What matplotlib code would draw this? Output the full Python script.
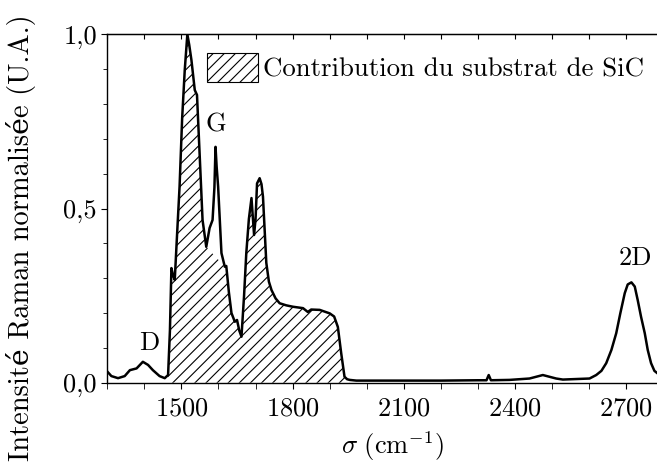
import numpy as np
import matplotlib
matplotlib.use('Agg')
import matplotlib.pyplot as plt
from matplotlib.patches import Patch

plt.rcParams['font.family'] = ['cmr10', 'DejaVu Serif']
plt.rcParams['mathtext.fontset'] = 'cm'
plt.rcParams['axes.formatter.use_mathtext'] = True
plt.rcParams['hatch.linewidth'] = 0.8

# spectre Raman normalise
sigma = [1300, 1311, 1329, 1347, 1361, 1379, 1396, 1410, 1423, 1441, 1455, 1464,
         1469, 1473, 1477, 1482, 1488, 1495, 1502, 1509, 1516, 1521, 1527, 1536,
         1542, 1549, 1557, 1567, 1576, 1584, 1589, 1592, 1595, 1599, 1608, 1617,
         1621, 1628, 1635, 1644, 1650, 1656, 1662, 1669, 1675, 1682, 1689, 1696,
         1700, 1704, 1711, 1716, 1720, 1729, 1736, 1743, 1754, 1765, 1783, 1801,
         1828, 1841, 1850, 1873, 1900, 1912, 1922, 1931, 1940, 1947, 1954, 1972,
         2000, 2100, 2200, 2300, 2323, 2329, 2335, 2385, 2439, 2475, 2511, 2529,
         2601, 2619, 2633, 2646, 2660, 2673, 2684, 2696, 2704, 2714, 2723, 2731,
         2740, 2750, 2758, 2767, 2776, 2783]
intensite = [0.032, 0.019, 0.013, 0.019, 0.036, 0.041, 0.060, 0.051, 0.036, 0.019,
             0.013, 0.022, 0.150, 0.329, 0.310, 0.295, 0.420, 0.563, 0.760, 0.898,
             1.000, 0.970, 0.926, 0.840, 0.826, 0.659, 0.467, 0.390, 0.444, 0.467,
             0.560, 0.677, 0.620, 0.563, 0.372, 0.333, 0.335, 0.260, 0.200, 0.175,
             0.180, 0.150, 0.132, 0.250, 0.372, 0.470, 0.530, 0.424, 0.470, 0.572,
             0.587, 0.570, 0.534, 0.344, 0.290, 0.266, 0.242, 0.228, 0.222, 0.218,
             0.214, 0.203, 0.210, 0.209, 0.199, 0.190, 0.160, 0.085, 0.017, 0.010,
             0.008, 0.006, 0.006, 0.006, 0.006, 0.007, 0.007, 0.022, 0.007, 0.008,
             0.012, 0.022, 0.012, 0.009, 0.012, 0.022, 0.034, 0.056, 0.094, 0.142,
             0.199, 0.257, 0.282, 0.288, 0.276, 0.237, 0.189, 0.142, 0.094, 0.056,
             0.034, 0.028]

# contribution du substrat : sous la courbe, pic G coupe par une droite
substrat_debut, substrat_fin = 1464, 1954
coupe_G = (1567, 1617)

x = np.array(sigma, dtype=float)
y = np.array(intensite)

fig = plt.figure(figsize=(6.57, 4.72), dpi=100)
ax = fig.add_axes([0.1633, 0.1892, 0.8367, 0.7381])

xs = np.linspace(substrat_debut, substrat_fin, 2000)
ys = np.interp(xs, x, y)
y0, y1 = np.interp(coupe_G, x, y)
m = (xs > coupe_G[0]) & (xs < coupe_G[1])
ys[m] = y0 + (y1 - y0) * (xs[m] - coupe_G[0]) / (coupe_G[1] - coupe_G[0])
ax.fill_between(xs, 0, ys, facecolor='white', edgecolor='black', hatch='///',
                linewidth=0)

ax.plot(x, y, color='black', lw=1.8, solid_joinstyle='round')

ax.set_xlim(1300, 2783)
ax.set_ylim(0, 1)
ax.set_xticks([1500, 1800, 2100, 2400, 2700])
ax.set_xticks(np.arange(1300, 2800, 100), minor=True)
ax.set_yticks([0, 0.5, 1.0])
ax.set_yticklabels(['0,0', '0,5', '1,0'])
ax.set_yticks(np.arange(0, 1.01, 0.1), minor=True)
ax.tick_params(axis='both', which='both', labelsize=19, direction='out',
               right=False)
ax.tick_params(axis='x', which='both', length=4, pad=6)
ax.tick_params(axis='y', which='major', length=4)
ax.tick_params(axis='y', which='minor', length=3)
ax.spines['right'].set_visible(False)
for sp in ax.spines.values():
    sp.set_linewidth(1.0)

# graduations du haut, vers l'interieur
top = ax.secondary_xaxis('top')
top.set_xticks(np.arange(1300, 2800, 100))
top.set_xticks([], minor=True)
top.tick_params(direction='in', length=3.5, labeltop=False)

ax.set_xlabel(r'$\sigma\ (\mathrm{cm}^{-1})$', fontsize=19)
ax.xaxis.set_label_coords(0.518, -0.135)
ax.set_ylabel('Intensité Raman normalisée (U.A.)', fontsize=20.5)
ax.yaxis.set_label_coords(-0.13, 0.417)

ax.text(1414, 0.094, 'D', fontsize=19, ha='center', va='baseline')
ax.text(1594, 0.72, 'G', fontsize=19, ha='center', va='baseline')
ax.text(2725, 0.338, '2D', fontsize=19, ha='center', va='baseline')

leg_patch = Patch(facecolor='white', edgecolor='black', hatch='///', lw=0.8,
                  label='Contribution du substrat de SiC')
ax.legend(handles=[leg_patch], loc='upper left', bbox_to_anchor=(0.1814, 0.946),
          frameon=False, fontsize=19.3, handlelength=1.9, handleheight=1.27,
          handletextpad=0.2, borderpad=0, borderaxespad=0)

fig.savefig('out.png', dpi=100)
